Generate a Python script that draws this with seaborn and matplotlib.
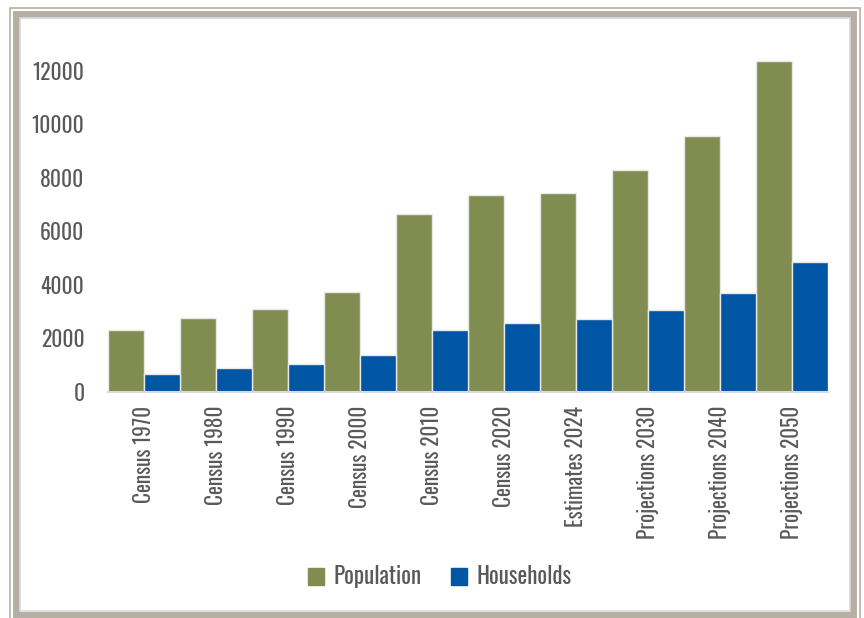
import matplotlib
matplotlib.use("Agg")
import matplotlib.pyplot as plt
from matplotlib.patches import Rectangle, Patch
from matplotlib import font_manager
import seaborn as sns
import pandas as pd

categories = ["Census 1970", "Census 1980", "Census 1990", "Census 2000", "Census 2010",
              "Census 2020", "Estimates 2024", "Projections 2030", "Projections 2040", "Projections 2050"]
population = [2310, 2760, 3100, 3740, 6650, 7345, 7430, 8290, 9570, 12370]
households = [680, 900, 1050, 1380, 2320, 2580, 2730, 3065, 3712, 4871]
series_names = ["Population", "Households"]
colors = ["#818C50", "#0055A5"]
yticks = [0, 2000, 4000, 6000, 8000, 10000, 12000]

sns.set_theme(style="white")

# pick a condensed font if one is installed
entries = font_manager.fontManager.ttflist
names = {e.name for e in entries}
chosen_family, chosen_stretch = "DejaVu Sans", "normal"
for cand in ["Oswald", "Roboto Condensed", "Liberation Sans Narrow", "Open Sans Condensed",
             "Noto Sans Condensed", "DejaVu Sans Condensed"]:
    if cand in names:
        chosen_family = cand
        break
else:
    for fam in ["Roboto", "Noto Sans", "Open Sans", "DejaVu Sans", "Inter"]:
        if any(e.name == fam and str(e.stretch) in ("condensed", "semi-condensed", "extra-condensed")
               for e in entries):
            chosen_family, chosen_stretch = fam, "condensed"
            break
plt.rcParams["font.family"] = [chosen_family, "DejaVu Sans"]
plt.rcParams["font.stretch"] = chosen_stretch

df = pd.DataFrame({
    "Category": categories * 2,
    "Value": population + households,
    "Series": [series_names[0]] * len(categories) + [series_names[1]] * len(categories),
})

W, H = 864, 618
fig = plt.figure(figsize=(W / 100, H / 100), dpi=100)
ax = fig.add_axes([108 / W, (H - 392) / H, (828 - 108) / W, (392 - 44) / H])

sns.barplot(data=df, x="Category", y="Value", hue="Series", order=categories,
            hue_order=series_names, palette=colors, saturation=1, width=1.0, ax=ax,
            edgecolor="#E8E8E8", linewidth=1.0, legend=False, errorbar=None)

ax.set_xlim(-0.5, len(categories) - 0.5)
ax.set_ylim(0, 13000)
ax.set_yticks(yticks)
ax.set_yticklabels([str(v) for v in yticks])
ax.set_xlabel("")
ax.set_ylabel("")
for s in ["top", "right", "left"]:
    ax.spines[s].set_visible(False)
ax.spines["bottom"].set_color("#D9D9D9")
ax.spines["bottom"].set_linewidth(1.5)
ax.tick_params(axis="y", labelsize=15.5, colors="#595959", length=0, pad=17)
ax.tick_params(axis="x", labelsize=15.3, colors="#595959", length=0, pad=10, labelrotation=90)
ax.grid(False)

handles = [Patch(facecolor=c, edgecolor=c) for c in colors]
fig.legend(handles, series_names, loc="center", bbox_to_anchor=(440 / W, 1 - 577 / H),
           ncol=2, frameon=False, fontsize=16.5, handlelength=0.7, handleheight=0.7,
           handletextpad=0.4, columnspacing=1.3, labelcolor="#595959")

# frame
def frame(x0, y0, x1, y1, lw, color):
    fig.add_artist(Rectangle((x0 / W, 1 - y1 / H), (x1 - x0) / W, (y1 - y0) / H,
                             transform=fig.transFigure, fill=False, lw=lw, edgecolor=color))

tan = "#B8AFA4"
frame(9.5, 8.5, 859.5, 640, 1.2, tan)
frame(16, 13.5, 853, 615, 5.0, tan)
frame(20, 17.5, 849.5, 610.5, 1.2, "#D9D9D9")

fig.savefig("out.png", dpi=100)
